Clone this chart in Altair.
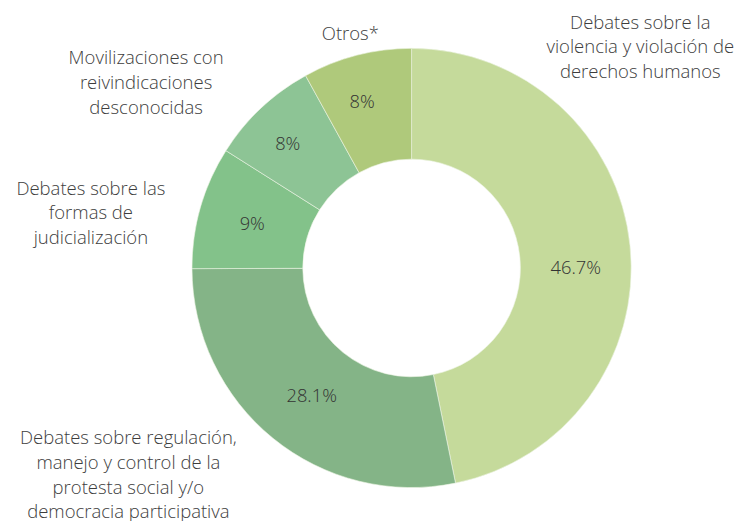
import altair as alt
import pandas as pd

categories = [
    "Debates sobre la\nviolencia y violación de\nderechos humanos",
    "Debates sobre regulación,\nmanejo y control de la\nprotesta social y/o\ndemocracia participativa",
    "Debates sobre las\nformas de\njudicialización",
    "Movilizaciones con\nreivindicaciones\ndesconocidas",
    "Otros*",
]
values = [46.7, 28.1, 9, 8, 8]
pct_labels = ["46.7%", "28.1%", "9%", "8%", "8%"]
colors = ["#c5da9b", "#84b487", "#83c28a", "#8dc495", "#afc97b"]

# label layout (angle clockwise from top in degrees, distance from centre in px)
label_angle = [43, 239, 283.9, 308.3, 345.3]
label_radius = [339, 334, 334, 342, 244]
pct_angle = [90, 218, 285.3, 315, 343.4]
pct_radius = [166, 164, 167, 177, 175]

df = pd.DataFrame({
    "cat": categories,
    "value": values,
    "idx": list(range(len(values))),
})
lab = pd.DataFrame({"cat": categories, "ang": label_angle, "rad": label_radius})
plab = pd.DataFrame({"pct": pct_labels, "ang": pct_angle, "rad": pct_radius})

arcs = alt.Chart(df).mark_arc(
    innerRadius=110, outerRadius=222, stroke="#eef4e6", strokeWidth=0.6
).encode(
    theta=alt.Theta("value:Q", stack=True),
    order=alt.Order("idx:Q"),
    color=alt.Color("cat:N", scale=alt.Scale(domain=categories, range=colors), legend=None, sort=categories),
)

ang_scale = alt.Scale(domain=[0, 360], range=[0, 6.283185307])
rad_scale = alt.Scale(type="linear", domain=[0, 1000], range=[0, 1000])

pcts = alt.Chart(plab).mark_text(
    font="Open Sans", fontSize=18.5, fontWeight=300, color="#333333", align="center", baseline="middle"
).encode(
    theta=alt.Theta("ang:Q", scale=ang_scale),
    radius=alt.Radius("rad:Q", scale=rad_scale),
    text="pct:N",
)
outer = alt.Chart(lab).mark_text(
    font="Open Sans", fontSize=18.7, fontWeight=300, color="#3d3d3d", lineBreak="\n", lineHeight=25,
    align="center", baseline="middle"
).encode(
    theta=alt.Theta("ang:Q", scale=ang_scale),
    radius=alt.Radius("rad:Q", scale=rad_scale),
    text="cat:N",
)

chart = alt.layer(arcs, alt.layer(pcts, outer)).resolve_scale(theta="independent", radius="independent").properties(
    width=600, height=480,
    autosize=alt.AutoSizeParams(type="none"),
    padding={"left": 108, "top": 20, "right": 31, "bottom": 13},
).configure_view(stroke=None)

chart.save("out.html", embed_options={"renderer": "svg", "actions": False})
